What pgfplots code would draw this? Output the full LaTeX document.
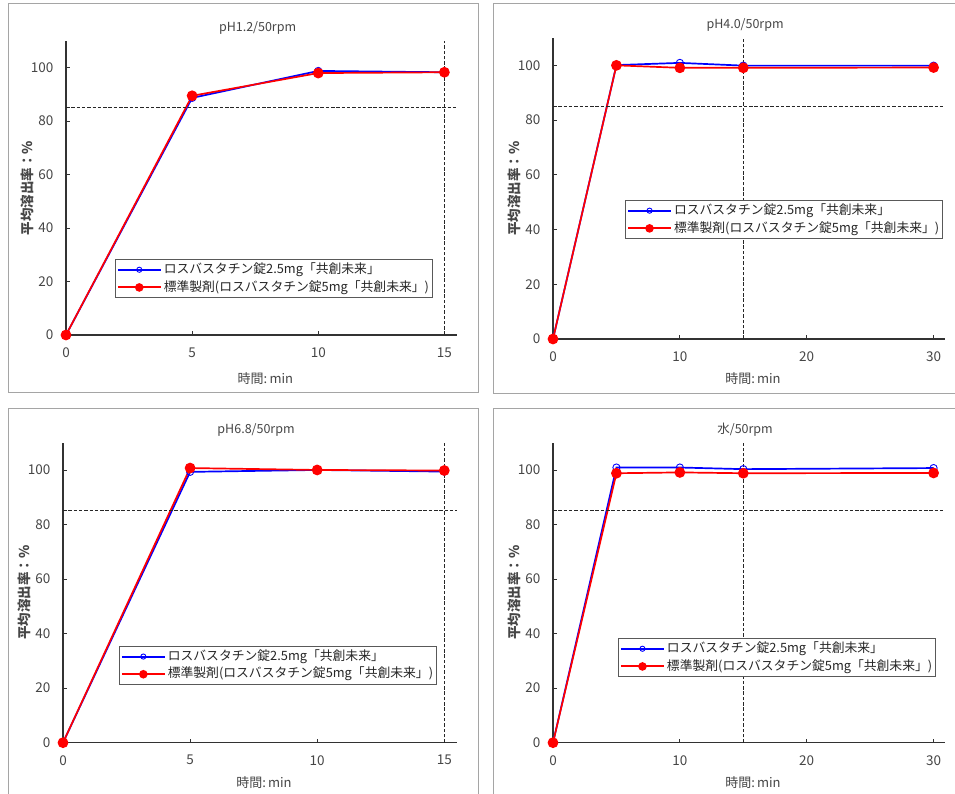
\documentclass[border=0pt]{standalone}
\usepackage{fontspec}
\setmainfont{Noto Sans CJK JP}
\usepackage{pgfplots}
\pgfplotsset{compat=1.18}
\definecolor{frame}{RGB}{165,165,165}
\definecolor{axgray}{RGB}{50,50,50}
\definecolor{txtgray}{RGB}{70,70,70}
\pgfplotsset{
 panel/.style={
  scale only axis, axis lines=left, axis line style={axgray, line width=1.5pt, -},
  ymin=0, ymax=110, ytick={0,20,...,100}, xmin=0,
  tick align=inside, major tick length=4pt, tick style={axgray, line width=0.8pt},
  ticklabel style={font=\fontsize{13.5}{15}\selectfont, text=txtgray},
  yticklabel style={xshift=-9pt},
  xticklabel style={yshift=-9pt},
  /pgf/number format/assume math mode=true,
  xlabel={時間:\,min}, ylabel={\bfseries 平均溶出率：\%},
  label style={text=txtgray},
  xlabel style={font=\fontsize{13}{14}\selectfont, at={(0.51,0)}, anchor=center, yshift=-40pt},
  ylabel style={font=\fontsize{13.5}{14}\selectfont, at={(0,0.5)}, anchor=center, yshift=39pt},
  title style={font=\fontsize{12.5}{14}\selectfont, text=txtgray, at={(0.49,1)}, anchor=center, yshift=7pt},
  legend style={draw=black!65, line width=0.8pt, font=\fontsize{12.8}{14}\selectfont, text=black!85, inner sep=1.5pt, anchor=north west,
    nodes={text height=10.5pt, text depth=3.2pt, inner sep=2pt}},
  legend cell align=left,
  legend image code/.code={\draw[mark repeat=2,mark phase=2,#1, line width=2pt, every mark/.append style={scale=0.72}] plot coordinates {(4pt,0pt) (25.5pt,0pt) (47pt,0pt)};},
  clip=false,
 },
 blueS/.style={blue, line width=1.7pt, mark=o, mark size=3.6pt, mark options={fill=white, line width=0.9pt}},
 redS/.style={red, line width=1.7pt, mark=*, mark size=4.5pt},
 refl/.style={black!85, dash pattern=on 3.5pt off 1.8pt, line width=1.2pt, forget plot, mark=none},
}
\begin{document}
\begin{tikzpicture}
\useasboundingbox (0pt,0pt) rectangle (955pt,794pt);
\fill[white] (0pt,0pt) rectangle (955pt,794pt);
\draw[frame, line width=1pt] (8pt,401pt) rectangle (478pt,790pt);
\draw[frame, line width=1pt] (493pt,400pt) rectangle (965pt,790pt);
\draw[frame, line width=1pt] (8pt,-20pt) rectangle (478pt,385pt);
\draw[frame, line width=1pt] (493pt,-20pt) rectangle (965pt,385pt);

% Panel 1
\begin{axis}[panel, at={(66pt,459pt)}, anchor=south west, width=391pt, height=294pt,
  xmax=15.5, xtick={0,5,10,15}, title={pH1.2/50rpm},
  xlabel style={yshift=-4pt},
  legend style={at={(0.125,0.2585)}}]
\addplot[blueS] coordinates {(0,0) (5,88.7) (10,98.8) (15,98.3)};
\addlegendentry{ロスバスタチン錠2.5mg「共創未来」}
\addplot[redS] coordinates {(0,0) (5,89.5) (10,98.0) (15,98.3)};
\addlegendentry{標準製剤(ロスバスタチン錠5mg「共創未来」)}
\addplot[refl] coordinates {(0,85) (15.5,85)};
\addplot[refl] coordinates {(15,0) (15,110)};
\end{axis}

% Panel 2
\begin{axis}[panel, at={(553pt,455pt)}, anchor=south west, width=392pt, height=301pt,
  xmax=30.9, xtick={0,10,20,30}, title={pH4.0/50rpm},
  legend style={at={(0.184,0.462)}}]
\addplot[blueS] coordinates {(0,0) (5,100.1) (10,100.9) (15,99.9) (30,99.9)};
\addlegendentry{ロスバスタチン錠2.5mg「共創未来」}
\addplot[redS] coordinates {(0,0) (5,100.0) (10,99.1) (15,99.1) (30,99.2)};
\addlegendentry{標準製剤(ロスバスタチン錠5mg「共創未来」)}
\addplot[refl] coordinates {(0,85) (30.9,85)};
\addplot[refl] coordinates {(15,0) (15,110)};
\end{axis}

% Panel 3
\begin{axis}[panel, at={(63pt,51.3pt)}, anchor=south west, width=394pt, height=300pt,
  xmax=15.5, xtick={0,5,10,15}, title={pH6.8/50rpm},
  legend style={at={(0.142,0.323)}}]
\addplot[blueS] coordinates {(0,0) (5,99.3) (10,100.0) (15,99.4)};
\addlegendentry{ロスバスタチン錠2.5mg「共創未来」}
\addplot[redS] coordinates {(0,0) (5,100.7) (10,100.0) (15,99.8)};
\addlegendentry{標準製剤(ロスバスタチン錠5mg「共創未来」)}
\addplot[refl] coordinates {(0,85) (15.5,85)};
\addplot[refl] coordinates {(15,0) (15,110)};
\end{axis}

% Panel 4
\begin{axis}[panel, at={(553pt,51.3pt)}, anchor=south west, width=392pt, height=300pt,
  xmax=30.9, xtick={0,10,20,30}, title={水/50rpm},
  legend style={at={(0.166,0.349)}}]
\addplot[blueS] coordinates {(0,0) (5,100.9) (10,100.9) (15,100.3) (30,100.7)};
\addlegendentry{ロスバスタチン錠2.5mg「共創未来」}
\addplot[redS] coordinates {(0,0) (5,98.8) (10,99.1) (15,98.8) (30,98.9)};
\addlegendentry{標準製剤(ロスバスタチン錠5mg「共創未来」)}
\addplot[refl] coordinates {(0,85) (30.9,85)};
\addplot[refl] coordinates {(15,0) (15,110)};
\end{axis}
\end{tikzpicture}
\end{document}
